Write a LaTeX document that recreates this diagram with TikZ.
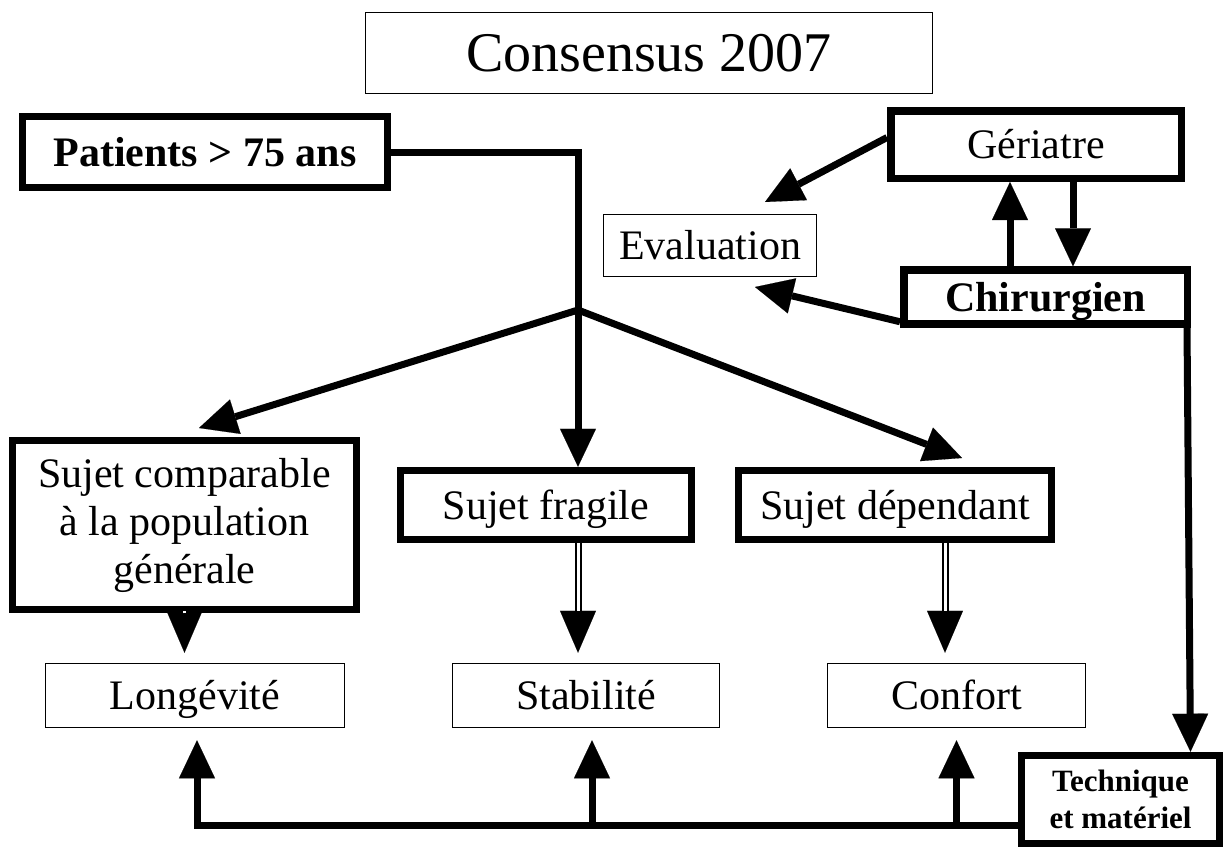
\documentclass[tikz,border=0pt]{standalone}
\usepackage{fontspec}
\setmainfont{Liberation Serif}
\usetikzlibrary{arrows.meta,calc}
\begin{document}
\begin{tikzpicture}[x=1pt,y=-1pt,
  thinbox/.style={draw, line width=1.5pt, inner sep=0pt, font=\fontsize{42}{48}\selectfont},
  thickbox/.style={draw, line width=7.5pt, inner sep=0pt, font=\fontsize{42}{48}\selectfont},
  oneline/.style={text height=28pt, text depth=0pt},
  conn/.style={line width=7pt},
  tip/.style={-{Triangle[length=38pt,width=36pt,line width=0.1pt]}},
  dtip/.style={-{Triangle[length=42pt,width=36pt,line width=0.1pt]}, line width=0.1pt},
  dbl/.style={double, double distance=3pt, line width=2pt, shorten >=42pt},
]
\fill[white] (0,0) rectangle (1226,849);
\useasboundingbox (0,0) rectangle (1226,849);

% nodes
\node[thinbox, font=\fontsize{56}{60}\selectfont, text height=37pt, text depth=0pt, minimum width=567pt, minimum height=81pt] (cons) at (649,53) {Consensus 2007};
\node[thickbox, oneline, font=\bfseries\fontsize{42}{48}\selectfont, minimum width=365pt, minimum height=71pt] (pat) at (205,152) {Patients > 75 ans};
\node[thickbox, oneline, minimum width=290.5pt, minimum height=67.5pt] (ger) at (1036,144.5) {Gériatre};
\node[thinbox, oneline, minimum width=213pt, minimum height=62pt] (eva) at (710,245.5) {Evaluation};
\node[thickbox, oneline, font=\bfseries\fontsize{42}{48}\selectfont, minimum width=283.5pt, minimum height=54pt] (chir) at (1045.5,297) {Chirurgien};
\node[thickbox, align=center, minimum width=344pt, minimum height=169pt] (sc) at (184.5,525) {Sujet comparable\\à la population\\générale};
\node[thickbox, oneline, minimum width=291pt, minimum height=69pt] (sf) at (546,505) {Sujet fragile};
\node[thickbox, oneline, minimum width=313pt, minimum height=69pt] (sd) at (895,505) {Sujet dépendant};
\node[thinbox, oneline, minimum width=299pt, minimum height=64pt] (lo) at (195,695.5) {Longévité};
\node[thinbox, oneline, minimum width=267pt, minimum height=64pt] (st) at (586,695.5) {Stabilité};
\node[thinbox, oneline, minimum width=258pt, minimum height=64pt] (co) at (956.5,695.5) {Confort};
\node[thickbox, align=center, font=\bfseries\fontsize{31}{37}\selectfont, minimum width=198pt, minimum height=88pt] (tm) at (1120.5,799.5) {Technique\\et matériel};

% coordinates
\coordinate (br) at (578,310);
\coordinate (l1) at (199,428);
\coordinate (r1) at (962,458);
\coordinate (e1) at (765,202);
\coordinate (e2) at (755,287);
\coordinate (u) at (1010,0);
\coordinate (d) at (1073,0);

% Patients -> Sujet fragile, branches
\draw[conn, tip] (pat.east) -| (br |- sf.north);
\draw[conn, tip] (br) -- (l1);
\draw[conn, tip] (br) -- (r1);

% Geriatre / Chirurgien -> Evaluation
\draw[conn, tip] ($(ger.west)+(0,-7)$) -- (e1);
\draw[conn, tip] ($(chir.south west)+(0,-6)$) -- (e2);

% Geriatre <-> Chirurgien
\draw[conn, tip] (u |- chir.north) -- (u |- ger.south);
\draw[conn, tip] (d |- ger.south) -- (d |- chir.north);

% Chirurgien -> Technique
\draw[conn, tip] ($(chir.south east)+(-4,0)$) -- ($(tm.north)+(70,0)$);

% double arrows
\coordinate (t1) at ($(lo.north)+(-10,-10)$);
\coordinate (a2) at ($(sf.south)+(32,0)$);
\coordinate (a3) at ($(sd.south)+(50,0)$);
\draw[dtip] (sc.south) -- (sc.south |- t1);
\draw[dbl] (sc.south) -- (sc.south |- t1);
\draw[dtip] (a2) -- (a2 |- t1);
\draw[dbl] (a2) -- (a2 |- t1);
\draw[dtip] (a3) -- (a3 |- t1);
\draw[dbl] (a3) -- (a3 |- t1);

% feedback from Technique
\coordinate (tmw) at ($(tm.west)+(0,25.5)$);
\coordinate (b1) at ($(lo.south)+(2,12)$);
\coordinate (b2) at ($(st.south)+(6,12)$);
\coordinate (b3) at ($(co.south)+(0,12)$);
\draw[conn, tip] (tmw) -| (b1);
\draw[conn, tip] (b2 |- tmw) -- (b2);
\draw[conn, tip] (b3 |- tmw) -- (b3);
\end{tikzpicture}
\end{document}
